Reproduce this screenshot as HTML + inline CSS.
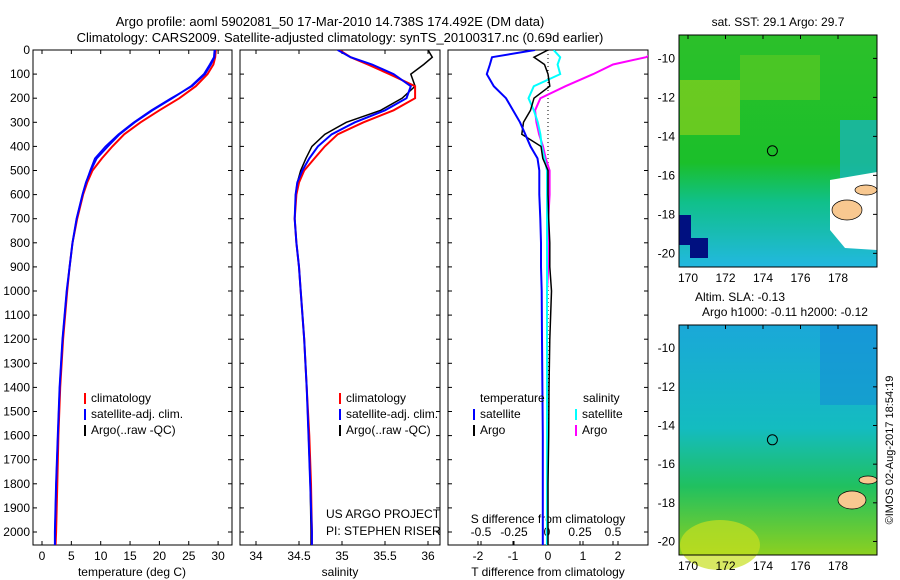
<!DOCTYPE html>
<html><head><meta charset="utf-8"><style>
body{margin:0;background:#fff;}
svg{display:block;font-family:"Liberation Sans",sans-serif;}
text{font-size:12px;fill:#000;}
</style></head><body>
<svg id="c" width="900" height="580" viewBox="0 0 900 580" xmlns="http://www.w3.org/2000/svg">
<defs>
<clipPath id="cp1"><rect x="33" y="50" width="199" height="495"/></clipPath>
<clipPath id="cp2"><rect x="240" y="50" width="200" height="495"/></clipPath>
<clipPath id="cp3"><rect x="448" y="50" width="200" height="495"/></clipPath>
<linearGradient id="sst" x1="0" y1="0" x2="0" y2="1">
<stop offset="0" stop-color="#2cc02a"/><stop offset="0.55" stop-color="#1bbf2a"/><stop offset="0.72" stop-color="#10c08a"/><stop offset="1" stop-color="#22b8e0"/></linearGradient>
<linearGradient id="sla" x1="0" y1="0" x2="0" y2="1">
<stop offset="0" stop-color="#1aa8d8"/><stop offset="0.45" stop-color="#14bcc0"/><stop offset="0.7" stop-color="#20c060"/><stop offset="1" stop-color="#8cd020"/></linearGradient>
</defs>
<text x="330" y="26" text-anchor="middle" style="font-size:13px">Argo profile: aoml 5902081_50 17-Mar-2010 14.738S 174.492E (DM data)</text>
<text x="340" y="42" text-anchor="middle" style="font-size:13px">Climatology: CARS2009. Satellite-adjusted climatology: synTS_20100317.nc (0.69d earlier)</text>
<g id="p1"></g>
<g id="p2"></g>
<g id="p3"></g>
<g id="maps"></g>
<text transform="translate(893,450) rotate(-90)" text-anchor="middle" style="font-size:11px">©IMOS 02-Aug-2017 18:54:19</text>
</svg>
<script>
const depthTicks=[0,100,200,300,400,500,600,700,800,900,1000,1100,1200,1300,1400,1500,1600,1700,1800,1900,2000];
const depths=[0,30,60,100,150,200,250,300,350,400,450,500,550,600,700,800,900,1000,1200,1400,1600,1800,2000,2060];
const tempClim=[29.6,29.5,29.2,28.2,26.2,23.4,20.0,16.8,14.0,12.0,10.2,8.6,7.7,7.0,6.0,5.2,4.7,4.3,3.6,3.1,2.8,2.6,2.4,2.3];
const tempSat=[29.4,29.3,28.6,27.6,25.4,22.2,18.8,15.8,13.2,11.2,9.3,8.3,7.5,6.9,5.9,5.2,4.7,4.2,3.5,3.0,2.7,2.4,2.2,2.2];
const tempArgo=[29.5,29.4,28.8,27.8,25.6,22.0,18.6,15.6,13.0,10.8,9.0,8.2,7.5,6.9,5.9,5.2,4.7,4.2,3.5,3.0,2.7,2.4,2.2,2.2];
const salClim=[34.97,35.1,35.3,35.55,35.85,35.85,35.6,35.25,34.95,34.8,34.68,34.56,34.5,34.47,34.45,34.47,34.5,34.52,34.56,34.59,34.62,34.64,34.65,34.65];
const salSat=[34.95,35.1,35.35,35.6,35.8,35.75,35.5,35.15,34.88,34.72,34.62,34.54,34.48,34.46,34.45,34.47,34.5,34.52,34.56,34.59,34.61,34.63,34.65,34.65];
const salArgo=[36.0,36.05,35.95,35.8,35.85,35.7,35.45,35.05,34.8,34.65,34.58,34.52,34.48,34.46,34.45,34.47,34.5,34.52,34.56,34.59,34.61,34.63,34.64,34.64];
const tdSat=[-0.37,-1.6,-1.66,-1.75,-1.55,-1.2,-1.0,-0.8,-0.65,-0.5,-0.3,-0.25,-0.25,-0.25,-0.22,-0.2,-0.2,-0.18,-0.17,-0.16,-0.15,-0.15,-0.15,-0.15];
const tdArgo=[0.0,-0.4,-0.1,0.0,0.05,-0.4,-0.5,-0.7,-0.75,-0.2,-0.15,0.0,0.0,0.0,0.02,0.05,0.05,0.1,0.05,0.03,0.02,0.0,0.0,0.0];
const sdSat=[0.05,0.1,0.08,0.1,-0.1,-0.14,-0.1,-0.07,-0.05,-0.04,-0.02,0.0,0.0,0.0,0.0,0.0,0.0,0.0,0.0,0.0,0.0,0.0,0.0,0.0];
const sdArgo=[0.85,0.75,0.5,0.35,0.14,-0.05,-0.09,-0.08,-0.06,-0.03,-0.01,0.02,0.02,0.02,0.01,0.01,0.01,0.0,0.0,0.0,0.0,0.0,0.0,0.0];
const tempTicks=[0,5,10,15,20,25,30];
const salTicks=[34,34.5,35,35.5,36];
const tdTicks=[-2,-1,0,1,2];
const sdTicks=[-0.5,-0.25,0,0.25,0.5];
const sdTickLabels=["-0.5","-0.25","0","0.25","0.5"];

const NS="http://www.w3.org/2000/svg";
function mk(tag,attrs,parent){const e=document.createElementNS(NS,tag);for(const k in attrs)e.setAttribute(k,attrs[k]);parent.appendChild(e);return e;}
const Y=d=>50+d*0.241;
const xT=v=>42+v*5.87;
const xS=v=>256+(v-34)*86;
const xTD=v=>548+v*35;
const xSD=v=>547+v*132;

function frame(g,x0,w,showDepth){
  const r=mk('rect',{x:x0,y:50,width:w,height:495,fill:'none',stroke:'#000','stroke-width':1},g);
  
  
  depthTicks.forEach(d=>{
    mk('line',{x1:x0,x2:x0+4,y1:Y(d),y2:Y(d),stroke:'#000'},g);
    mk('line',{x1:x0+w-4,x2:x0+w,y1:Y(d),y2:Y(d),stroke:'#000'},g);
    if(showDepth){const t=mk('text',{x:x0-3,y:Y(d)+4,'text-anchor':'end'},g);t.textContent=d;
      
      }
  });
}
function xticks(g,ticks,fx,labels,ytxt,top){
  ticks.forEach((v,i)=>{
    mk('line',{x1:fx(v),x2:fx(v),y1:545,y2:541,stroke:'#000'},g);
    if(top)mk('line',{x1:fx(v),x2:fx(v),y1:50,y2:54,stroke:'#000'},g);
    const t=mk('text',{x:fx(v),y:ytxt,'text-anchor':'middle'},g);t.textContent=labels?labels[i]:v;
    
    
  });
}
function line(g,xs,fx,color,clip,name,w){
  const pts=xs.map((v,i)=>fx(v).toFixed(1)+','+Y(depths[i]).toFixed(1)).join(' ');
  const p=mk('polyline',{points:pts,fill:'none',stroke:color,'stroke-width':w||2,'clip-path':'url(#'+clip+')'},g);
  
  
}
function label(g,x,y,txt,name,anchor){const t=mk('text',{x:x,y:y,'text-anchor':anchor||'start'},g);t.textContent=txt;
  
  return t;}
function legend(g,x,y,items){
  items.forEach((it,i)=>{
    mk('line',{x1:x,x2:x,y1:y+i*16-9,y2:y+i*16+2,stroke:it[1],'stroke-width':2},g);
    label(g,x+6,y+i*16,it[0],'legend-entry');
  });
}
const g1=document.getElementById('p1');
frame(g1,33,199,true);
xticks(g1,tempTicks,xT,null,560,true);
label(g1,132,576,'temperature (deg C)','x-axis-title','middle');
line(g1,tempClim,xT,'#f00','cp1','climatology-temp-line');
line(g1,tempSat,xT,'#00f','cp1','satellite-temp-line');
line(g1,tempArgo,xT,'#00f','cp1','argo-temp-line',1.5);
legend(g1,85,402,[['climatology','#f00'],['satellite-adj. clim.','#00f'],['Argo(..raw -QC)','#000']]);
const g2=document.getElementById('p2');
frame(g2,240,200,false);
xticks(g2,salTicks,xS,null,560,true);
label(g2,340,576,'salinity','x-axis-title','middle');
line(g2,salArgo,xS,'#000','cp2','argo-salinity-line',1.5);
line(g2,salClim,xS,'#f00','cp2','climatology-salinity-line');
line(g2,salSat,xS,'#00f','cp2','satellite-salinity-line');
legend(g2,340,402,[['climatology','#f00'],['satellite-adj. clim.','#00f'],['Argo(..raw -QC)','#000']]);
label(g2,326,518,'US ARGO PROJECT','project-label');
label(g2,326,535,'PI: STEPHEN RISER','pi-label');
const g3=document.getElementById('p3');
frame(g3,448,200,false);
xticks(g3,tdTicks,xTD,null,560,false);
xticks(g3,sdTicks,xSD,sdTickLabels,536,false);
label(g3,548,576,'T difference from climatology','x-axis-title','middle');
label(g3,548,523,'S difference from climatology','s-axis-title','middle');
mk('line',{x1:548,x2:548,y1:50,y2:545,stroke:'#000','stroke-dasharray':'1,3'},g3);
line(g3,sdArgo,xSD,'#f0f','cp3','argo-salinity-diff-line');
line(g3,sdSat,xSD,'#0ff','cp3','satellite-salinity-diff-line');
line(g3,tdArgo,xTD,'#000','cp3','argo-temp-diff-line',1.5);
line(g3,tdSat,xTD,'#00f','cp3','satellite-temp-diff-line');
label(g3,480,402,'temperature','legend-title');
label(g3,583,402,'salinity','legend-title');
legend(g3,474,418,[['satellite','#00f'],['Argo','#000']]);
legend(g3,576,418,[['satellite','#0ff'],['Argo','#f0f']]);

const gm=document.getElementById('maps');
const mapLon=[170,172,174,176,178];
const mapLat=[-10,-12,-14,-16,-18,-20];
function map(y0,h,fill,lat0,lat1,name){
  const g=mk('g',{},gm);
  
  
  mk('rect',{x:679,y:y0,width:198,height:h,fill:fill},g);
  const fx=l=>688+(l-170)*18.75;
  const fy=l=>y0+(lat0-l)*(h/(lat0-lat1));
  return {g,fx,fy};
}
function axes(m,y0,h){
  const g=m.g;
  mk('rect',{x:679,y:y0,width:198,height:h,fill:'none',stroke:'#000'},g);
  mapLon.forEach(l=>{mk('line',{x1:m.fx(l),x2:m.fx(l),y1:y0,y2:y0+4,stroke:'#000'},g);
    label(g,m.fx(l),y0+h+15,String(l),'map-lon-label','middle');});
  mapLat.forEach(l=>{mk('line',{x1:877,x2:873,y1:m.fy(l),y2:m.fy(l),stroke:'#000'},g);
    label(g,675,m.fy(l)+4,String(l),'map-lat-label','end');});
}
const m1=map(35,232,'url(#sst)',-8.8,-20.7,'sst-map');
mk('rect',{x:680,y:80,width:60,height:55,fill:'#9ad21c',opacity:0.6},m1.g);
mk('rect',{x:740,y:55,width:80,height:45,fill:'#6ccc20',opacity:0.5},m1.g);
mk('rect',{x:840,y:120,width:37,height:60,fill:'#18b4c8',opacity:0.7},m1.g);
mk('path',{d:'M830 180 L877 172 L877 250 L845 248 L830 230 Z',fill:'#fff'},m1.g);
mk('ellipse',{cx:847,cy:210,rx:15,ry:10,fill:'#f8c890',stroke:'#000','stroke-width':0.7},m1.g);
mk('ellipse',{cx:866,cy:190,rx:11,ry:5,fill:'#f8c890',stroke:'#000','stroke-width':0.7},m1.g);
mk('rect',{x:679,y:215,width:12,height:30,fill:'#001080'},m1.g);
mk('rect',{x:690,y:238,width:18,height:20,fill:'#001080'},m1.g);
mk('circle',{cx:m1.fx(174.5),cy:m1.fy(-14.74),r:5,fill:'none',stroke:'#000'},m1.g);
axes(m1,35,232);
label(m1.g,778,26,'sat. SST: 29.1 Argo: 29.7','sst-map-title','middle');
const m2=map(325,230,'url(#sla)',-8.8,-20.7,'sla-map');
mk('rect',{x:820,y:325,width:57,height:80,fill:'#1488d8',opacity:0.5},m2.g);
mk('ellipse',{cx:720,cy:545,rx:40,ry:25,fill:'#c8e020',opacity:0.7},m2.g);
mk('ellipse',{cx:852,cy:500,rx:14,ry:9,fill:'#f8c890',stroke:'#000','stroke-width':0.7},m2.g);
mk('ellipse',{cx:868,cy:480,rx:9,ry:4,fill:'#f8c890',stroke:'#000','stroke-width':0.7},m2.g);
mk('circle',{cx:m2.fx(174.5),cy:m2.fy(-14.74),r:5,fill:'none',stroke:'#000'},m2.g);
axes(m2,325,230);
label(m2.g,740,301,'Altim. SLA: -0.13','sla-map-title','middle');
label(m2.g,785,316,'Argo h1000: -0.11 h2000: -0.12','argo-height-label','middle');
</script>
</body></html>
